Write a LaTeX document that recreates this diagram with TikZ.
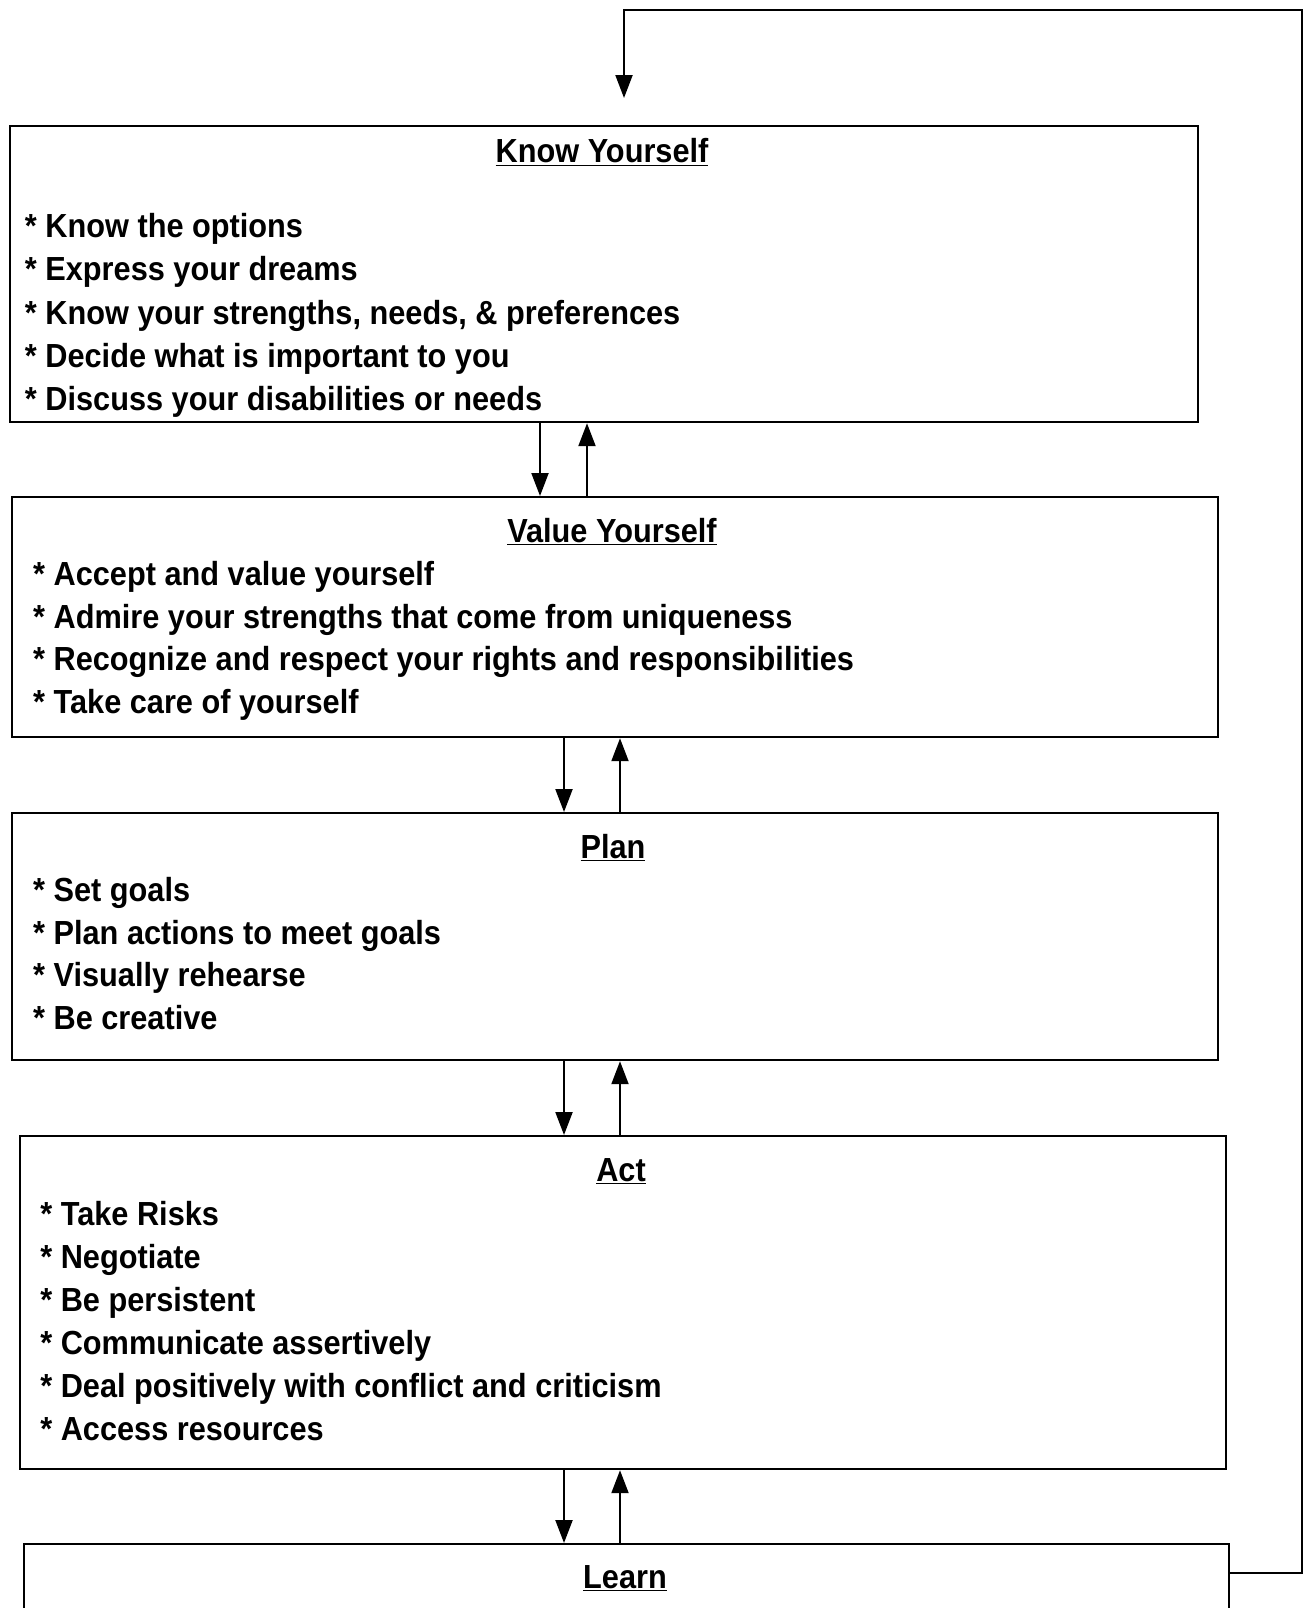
\documentclass[tikz,border=0pt]{standalone}
\usepackage{fontspec}
\setmainfont{Liberation Sans}[FakeStretch=0.92]
\usetikzlibrary{arrows.meta}
\tikzset{
  box/.style={draw, line width=1.3pt, inner sep=0pt, anchor=north west},
  arr/.style={line width=1.2pt, -{Triangle[length=0.46cm,width=0.34cm]}},
  ttl/.style={anchor=base, inner sep=0pt, font=\fontsize{19}{23}\selectfont\bfseries},
  item/.style={anchor=base west, inner sep=0pt, font=\fontsize{19}{23}\selectfont\bfseries}
}
\begin{document}
\begin{tikzpicture}[x=0.02cm,y=-0.02cm]
\clip (0,0) rectangle (1306,1608);

% the five boxes
\node[box, minimum width=23.76cm, minimum height=5.92cm] (know) at (9,125) {};
\node[box, minimum width=24.12cm, minimum height=4.8cm] (value) at (11,496) {};
\node[box, minimum width=24.12cm, minimum height=4.94cm] (plan) at (11,812) {};
\node[box, minimum width=24.13cm, minimum height=6.66cm] (act) at (18.5,1135) {};
\node[box, minimum width=24.1cm, minimum height=2.4cm] (learn) at (23,1543) {};

\node[ttl] (kt) at (602,163) {\underline{Know Yourself}};
\node[item] (k1) at (24.6,238) {* Know the options};
\node[item] (k2) at (24.6,281) {* Express your dreams};
\node[item] (k3) at (24.6,324) {* Know your strengths, needs, \& preferences};
\node[item] (k4) at (24.6,367) {* Decide what is important to you};
\node[item] (k5) at (24.6,410) {* Discuss your disabilities or needs};

\node[ttl] (vt) at (612,542) {\underline{Value Yourself}};
\node[item] (v1) at (32.8,585) {* Accept and value yourself};
\node[item] (v2) at (32.8,628) {* Admire your strengths that come from uniqueness};
\node[item] (v3) at (32.8,670) {* Recognize and respect your rights and responsibilities};
\node[item] (v4) at (32.8,713) {* Take care of yourself};

\node[ttl] (pt) at (613,858) {\underline{Plan}};
\node[item] (p1) at (32.8,901) {* Set goals};
\node[item] (p2) at (32.8,944) {* Plan actions to meet goals};
\node[item] (p3) at (32.8,986) {* Visually rehearse};
\node[item] (p4) at (32.8,1029) {* Be creative};

\node[ttl] (at) at (621,1181) {\underline{Act}};
\node[item] (a1) at (40,1225) {* Take Risks};
\node[item] (a2) at (40,1268) {* Negotiate};
\node[item] (a3) at (40,1311) {* Be persistent};
\node[item] (a4) at (40,1354) {* Communicate assertively};
\node[item] (a5) at (40,1397) {* Deal positively with conflict and criticism};
\node[item] (a6) at (40,1440) {* Access resources};

\node[ttl] (lt) at (625,1588) {\underline{Learn}};

% arrows between the boxes
\coordinate (d1) at (540,0);
\coordinate (u1) at (587,0);
\coordinate (d2) at (564,0);
\coordinate (u2) at (620,0);
\draw[arr] (d1 |- know.south) -- (d1 |- value.north);
\draw[arr] (u1 |- value.north) -- (u1 |- know.south);
\draw[arr] (d2 |- value.south) -- (d2 |- plan.north);
\draw[arr] (u2 |- plan.north) -- (u2 |- value.south);
\draw[arr] (d2 |- plan.south) -- (d2 |- act.north);
\draw[arr] (u2 |- act.north) -- (u2 |- plan.south);
\draw[arr] (d2 |- act.south) -- (d2 |- learn.north);
\draw[arr] (u2 |- learn.north) -- (u2 |- act.south);

% back to the top
\coordinate (back) at (1302,1573);
\coordinate (corner) at (1302,10);
\coordinate (down) at (624,98);
\draw[arr] (learn.east |- back) -- (back) -- (corner) -| (down);
\end{tikzpicture}
\end{document}
